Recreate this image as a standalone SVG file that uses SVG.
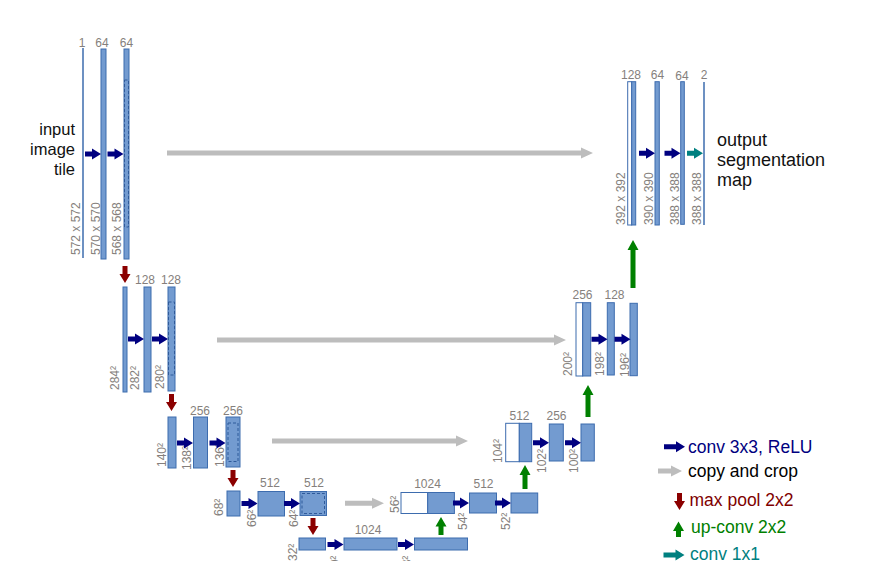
<svg xmlns="http://www.w3.org/2000/svg" width="869" height="561" viewBox="0 0 869 561">
<style>
.bar{fill:#739bd0;stroke:#3d6cae;stroke-width:1}
.cp{fill:#ffffff;stroke:#3d6cae;stroke-width:1}
.crop{fill:none;stroke:#2f5a9a;stroke-width:1;stroke-dasharray:3 2}
.ln{stroke:#3d6cae;stroke-width:1.5;fill:none}
.n{font-family:"Liberation Sans",Arial,sans-serif;font-size:12px;fill:#857f7c;text-anchor:middle}
.v{font-family:"Liberation Sans",Arial,sans-serif;font-size:12px;fill:#857f7c}
.io{font-family:"Liberation Sans",Arial,sans-serif;fill:#111111}
.conv{fill:#000080}
.c11{fill:#008080}
.pool{fill:#8b0000}
.up{fill:#008000}
.copy{fill:#bdbdbd}
.lg{font-family:"Liberation Sans",Arial,sans-serif;font-size:17.5px}
</style>
<defs>
<path id="ar" d="M-16,-2.5H-9V-5.5L0,0L-9,5.5V2.5H-16Z"/>
<path id="arL" d="M-21,-2.5H-9V-5.5L0,0L-9,5.5V2.5H-21Z"/>
<path id="dn" d="M-2.5,-17V-9H-5.5L0,0L5.5,-9H2.5V-17Z"/>
</defs>

<g id="input-text">
<text class="io" font-size="16.5" text-anchor="end" x="75" y="135">input</text>
<text class="io" font-size="16.5" text-anchor="end" x="75" y="155">image</text>
<text class="io" font-size="16.5" text-anchor="end" x="75" y="175">tile</text>
</g>

<!-- Level 1 contracting -->
<g id="l1-in">
<line class="ln" x1="83" y1="48" x2="83" y2="258"/>
<text class="n" x="82" y="47">1</text>
<text class="v" transform="translate(80,255) rotate(-90)">572 x 572</text>
</g>
<g id="l1-a">
<rect class="bar" x="101" y="49" width="5" height="210"/>
<text class="n" x="102" y="47">64</text>
<text class="v" transform="translate(100,255) rotate(-90)">570 x 570</text>
</g>
<g id="l1-b">
<rect class="bar" x="124" y="49" width="5" height="210"/>
<rect class="crop" x="124.5" y="80" width="4" height="147"/>
<text class="n" x="126.5" y="47">64</text>
<text class="v" transform="translate(121,255) rotate(-90)">568 x 568</text>
</g>

<!-- Level 2 contracting -->
<g id="l2-a">
<rect class="bar" x="123" y="287" width="4" height="105"/>
<text class="v" transform="translate(119,390) rotate(-90)">284²</text>
</g>
<g id="l2-b">
<rect class="bar" x="144" y="287" width="7" height="105"/>
<text class="n" x="145" y="284">128</text>
<text class="v" transform="translate(139,390) rotate(-90)">282²</text>
</g>
<g id="l2-c">
<rect class="bar" x="168" y="287" width="7" height="104"/>
<rect class="crop" x="168.5" y="302" width="6" height="73"/>
<text class="n" x="171" y="284">128</text>
<text class="v" transform="translate(164,389) rotate(-90)">280²</text>
</g>

<!-- Level 3 contracting -->
<g id="l3-a">
<rect class="bar" x="168" y="417" width="8" height="51"/>
<text class="v" transform="translate(166,467) rotate(-90)">140²</text>
</g>
<g id="l3-b">
<rect class="bar" x="193.5" y="417" width="14" height="51"/>
<text class="n" x="200" y="415">256</text>
<text class="v" transform="translate(191,470) rotate(-90)">138²</text>
</g>
<g id="l3-c">
<rect class="bar" x="226" y="417" width="14" height="50"/>
<rect class="crop" x="228" y="423" width="10" height="38.5"/>
<text class="n" x="233" y="415">256</text>
<text class="v" transform="translate(224,467) rotate(-90)">136²</text>
</g>

<!-- Level 4 contracting -->
<g id="l4-a">
<rect class="bar" x="227" y="491" width="13" height="25"/>
<text class="v" transform="translate(223,516) rotate(-90)">68²</text>
</g>
<g id="l4-b">
<rect class="bar" x="258" y="491.5" width="26.5" height="24.5"/>
<text class="n" x="270" y="487">512</text>
<text class="v" transform="translate(256,527) rotate(-90)">66²</text>
</g>
<g id="l4-c">
<rect class="bar" x="300" y="491.5" width="26.5" height="24"/>
<rect class="crop" x="302" y="493.5" width="22.5" height="20"/>
<text class="n" x="314" y="487">512</text>
<text class="v" transform="translate(298,527) rotate(-90)">64²</text>
</g>

<!-- Level 5 bottom -->
<g id="l5-a">
<rect class="bar" x="299" y="538" width="26.5" height="12"/>
<text class="v" transform="translate(297,561) rotate(-90)">32²</text>
</g>
<g id="l5-b">
<rect class="bar" x="344" y="538" width="53" height="12"/>
<text class="n" x="368" y="534">1024</text>
<text class="v" transform="translate(339,573) rotate(-90)">30²</text>
</g>
<g id="l5-c">
<rect class="bar" x="414.5" y="538" width="53" height="12"/>
<text class="v" transform="translate(411,573) rotate(-90)">28²</text>
</g>

<!-- Level 4 expanding -->
<g id="r4-a">
<rect class="cp" x="401" y="492.5" width="26.7" height="21"/>
<rect class="bar" x="427.7" y="492.5" width="26.7" height="21"/>
<text class="n" x="427.5" y="488">1024</text>
<text class="v" transform="translate(399,513) rotate(-90)">56²</text>
</g>
<g id="r4-b">
<rect class="bar" x="469.5" y="493" width="27" height="20"/>
<text class="n" x="483.5" y="488">512</text>
<text class="v" transform="translate(467,530) rotate(-90)">54²</text>
</g>
<g id="r4-c">
<rect class="bar" x="511" y="493" width="26.7" height="20"/>
<text class="v" transform="translate(510,530) rotate(-90)">52²</text>
</g>

<!-- Level 3 expanding -->
<g id="r3-a">
<rect class="cp" x="505.7" y="423.3" width="13.6" height="38.4"/>
<rect class="bar" x="519.3" y="423.3" width="12.4" height="38.4"/>
<text class="n" x="519.5" y="420">512</text>
<text class="v" transform="translate(502,463) rotate(-90)">104²</text>
</g>
<g id="r3-b">
<rect class="bar" x="549.3" y="424" width="14" height="37"/>
<text class="n" x="556.5" y="420">256</text>
<text class="v" transform="translate(546,473) rotate(-90)">102²</text>
</g>
<g id="r3-c">
<rect class="bar" x="581" y="424" width="13.3" height="37"/>
<text class="v" transform="translate(578,473) rotate(-90)">100²</text>
</g>

<!-- Level 2 expanding -->
<g id="r2-a">
<rect class="cp" x="576" y="302.7" width="6.7" height="73.3"/>
<rect class="bar" x="582.7" y="302.7" width="8" height="73.3"/>
<text class="n" x="582.5" y="299">256</text>
<text class="v" transform="translate(572,376) rotate(-90)">200²</text>
</g>
<g id="r2-b">
<rect class="bar" x="607.3" y="302.7" width="7" height="72.3"/>
<text class="n" x="614.5" y="299">128</text>
<text class="v" transform="translate(604,376) rotate(-90)">198²</text>
</g>
<g id="r2-c">
<rect class="bar" x="630" y="303.3" width="7.3" height="72.4"/>
<text class="v" transform="translate(629,377) rotate(-90)">196²</text>
</g>

<!-- Level 1 expanding -->
<g id="r1-a">
<rect class="cp" x="627.7" y="81.7" width="4" height="143.3"/>
<rect class="bar" x="631.7" y="81.7" width="4" height="143.3"/>
<text class="n" x="631" y="79">128</text>
<text class="v" transform="translate(625,225) rotate(-90)">392 x 392</text>
</g>
<g id="r1-b">
<rect class="bar" x="655" y="81.7" width="4.3" height="143.3"/>
<text class="n" x="657.5" y="79">64</text>
<text class="v" transform="translate(653,225) rotate(-90)">390 x 390</text>
</g>
<g id="r1-c">
<rect class="bar" x="680.7" y="81.7" width="3.6" height="142.6"/>
<text class="n" x="682" y="80">64</text>
<text class="v" transform="translate(679,225) rotate(-90)">388 x 388</text>
</g>
<g id="r1-out">
<line class="ln" x1="704" y1="82" x2="704" y2="225"/>
<text class="n" x="704" y="79">2</text>
<text class="v" transform="translate(701,225) rotate(-90)">388 x 388</text>
</g>

<g id="output-text">
<text class="io" font-size="18" x="717" y="146">output</text>
<text class="io" font-size="18" x="717" y="166">segmentation</text>
<text class="io" font-size="18" x="717" y="186">map</text>
</g>

<!-- Connectors -->
<g id="connectors">
<!-- conv 3x3 -->
<use href="#ar" class="conv" x="101" y="154"/>
<use href="#ar" class="conv" x="123.5" y="154"/>
<use href="#ar" class="conv" x="144" y="339"/>
<use href="#ar" class="conv" x="168" y="339"/>
<use href="#ar" class="conv" x="193" y="443"/>
<use href="#ar" class="conv" x="225.5" y="443"/>
<use href="#ar" class="conv" x="257.5" y="503.5"/>
<use href="#ar" class="conv" x="300" y="503.5"/>
<use href="#ar" class="conv" x="343.5" y="544.5"/>
<use href="#ar" class="conv" x="414" y="544.5"/>
<use href="#ar" class="conv" x="469" y="503"/>
<use href="#ar" class="conv" x="511" y="503"/>
<use href="#ar" class="conv" x="549" y="442.7"/>
<use href="#ar" class="conv" x="581" y="442.7"/>
<use href="#ar" class="conv" x="607.5" y="339.3"/>
<use href="#ar" class="conv" x="630.5" y="339.3"/>
<use href="#ar" class="conv" x="655" y="153.3"/>
<use href="#ar" class="conv" x="680.5" y="153.3"/>
<!-- conv 1x1 -->
<use href="#ar" class="c11" x="703" y="153.3"/>
<!-- max pool -->
<use href="#dn" class="pool" x="125" y="283"/>
<use href="#dn" class="pool" x="171.5" y="411"/>
<use href="#dn" class="pool" x="233" y="487"/>
<use href="#dn" class="pool" x="313" y="535"/>
<!-- up-conv -->
<path class="up" d="M438.5,535V526.5H435.5L441,517L446.5,526.5H443.5V535Z"/>
<path class="up" d="M522.5,489V475H519.5L525,465L530.5,475H527.5V489Z"/>
<path class="up" d="M585.5,417V395H582.5L588,385L593.5,395H590.5V417Z"/>
<path class="up" d="M630.5,288V250H627.5L633,240L638.5,250H635.5V288Z"/>
<!-- copy and crop -->
<path class="copy" d="M167,150.5H581V147.5L593,153L581,158.5V155.5H167Z"/>
<path class="copy" d="M217,337.5H554V334.5L566,340L554,345.5V342.5H217Z"/>
<path class="copy" d="M272,438.5H456V435.5L468,441L456,446.5V443.5H272Z"/>
<path class="copy" d="M345,500.8H372V497.8L384,503.3L372,508.8V505.8H345Z"/>
</g>

<!-- Legend -->
<g id="legend">
<use href="#arL" class="conv" x="685" y="446.7"/>
<text class="lg" x="688" y="452.5" fill="#000080">conv 3x3, ReLU</text>
<path class="copy" d="M658,468.5H671V465.5L682,471L671,476.5V473.5H658Z"/>
<text class="lg" x="688" y="477" fill="#000000">copy and crop</text>
<use href="#dn" class="pool" x="679.5" y="510"/>
<text class="lg" x="689.5" y="505.5" fill="#800000">max pool 2x2</text>
<path class="up" d="M676,537V531H673L678.5,521.5L684,531H681V537Z"/>
<text class="lg" x="691" y="533" fill="#008000">up-conv 2x2</text>
<use href="#arL" class="c11" x="684.5" y="555"/>
<text class="lg" x="690" y="559.5" fill="#008080">conv 1x1</text>
</g>
</svg>
